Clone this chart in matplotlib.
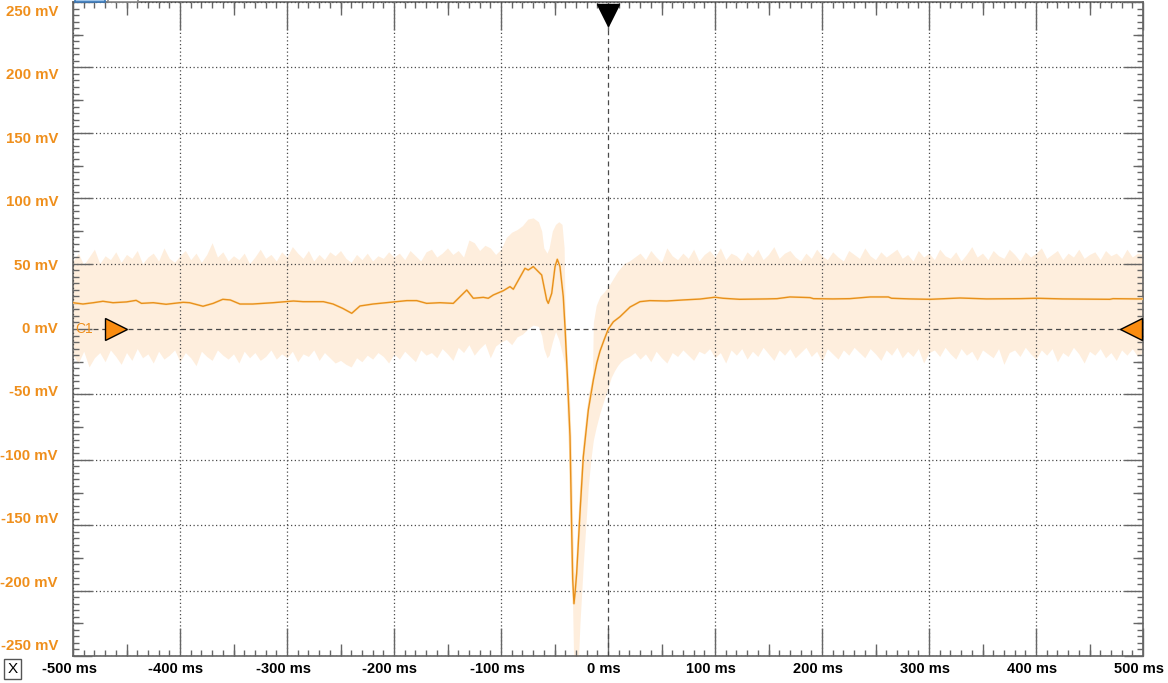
"""
Trace oscilloscope : moyenne C1 + enveloppe min/max autour du déclenchement.
"""

import numpy as np
import matplotlib
matplotlib.use("Agg")
import matplotlib.pyplot as plt
from matplotlib.ticker import MultipleLocator, FuncFormatter
from matplotlib.patches import Rectangle
from matplotlib.transforms import ScaledTranslation

# ----------------------------------------------------------------------------
# Données (lues sur la capture)
# ----------------------------------------------------------------------------
# trace moyenne : temps (ms) / tension (mV)
trace_t = [-500, -490.7, -481, -472, -462.6, -450, -441, -436, -425, -413,
           -397, -391, -378.5, -369, -360, -353, -344, -332, -313, -294,
           -285, -266, -257, -248, -239.5, -231.8, -219.6, -203.7, -188, -178.8,
           -169.5, -157, -144.6, -132, -125.9, -116.5, -111.9, -107.2, -97.8, -91.6,
           -88.5, -77.6, -74.5, -69.8, -62, -57.3, -55.8, -52.6, -49.5, -47.4,
           -44.9, -41.8, -40.2, -37.8, -35.5, -34, -33, -31.8, -30.8, -29.3,
           -26.2, -23.1, -18.4, -13.7, -10.5, -7.5, -3.5, 0.3, 5, 11.2,
           20.6, 29.9, 39, 54.8, 70, 86, 100, 107.5, 123, 148.6,
           158, 170, 188.8, 192, 210, 226, 245, 262, 265, 282,
           301, 329, 354, 385, 401, 425, 469, 472, 494, 500]
trace_v = [20.1, 19.1, 20.1, 21.2, 20.1, 20.7, 21.9, 19.6, 20.1, 18.9,
           20.4, 20.1, 17.4, 19.6, 22.7, 22.2, 19.1, 19.1, 20.1, 21.4,
           20.9, 20.9, 19.1, 15.8, 12.0, 17.6, 19.1, 20.4, 21.7, 21.7,
           19.6, 20.1, 19.6, 29.8, 23.5, 24.2, 23.5, 26.0, 29.3, 32.4,
           30.4, 46.4, 45.1, 47.7, 41.3, 22.2, 19.6, 27.3, 47.7, 53.3,
           47.7, 24.7, 1.8, -39, -82, -151, -191, -210, -202, -187,
           -141, -98, -62, -39, -26, -17, -8, 0, 5.5, 9.4,
           16.8, 20.9, 21.7, 21.4, 22.2, 22.9, 24.3, 23.5, 22.7, 23.0,
           23.2, 24.5, 24.0, 23.2, 23.0, 23.2, 24.5, 24.5, 23.5, 23.0,
           22.7, 23.7, 23.0, 23.2, 23.5, 23.0, 22.7, 23.2, 23.0, 23.0]

# enveloppe, partie gauche : -500 .. -100 ms, pas de 5 ms
env_left_t = np.arange(-500, -95, 5)
env_left_hi = [52, 58, 49, 55, 61, 50, 56, 53, 59, 51,
               57, 54, 60, 50, 55, 58, 52, 62, 54, 51,
               56, 60, 53, 58, 51, 57, 66, 55, 59, 52,
               56, 53, 58, 50, 55, 61, 54, 57, 52, 59,
               55, 63, 58, 54, 60, 52, 57, 53, 59, 56,
               60, 54, 51, 57, 53, 58, 52, 56, 54, 59,
               55, 58, 53, 60, 56, 52, 59, 61, 55, 58,
               62, 57, 60, 55, 68, 66, 60, 64, 62, 57,
               61]
env_left_lo = [-20, -26, -17, -29, -22, -18, -25, -16, -21, -27,
               -18, -24, -15, -22, -19, -26, -17, -23, -20, -16,
               -25, -18, -22, -28, -17, -21, -24, -16, -20, -23,
               -19, -26, -17, -22, -18, -24, -21, -16, -23, -19,
               -22, -17, -25, -19, -21, -16, -24, -18, -22, -26,
               -24, -27, -29, -22, -25, -20, -23, -18, -21, -26,
               -19, -23, -17, -21, -25, -16, -20, -18, -22, -15,
               -19, -24, -14, -18, -12, -20, -15, -11, -22, -13,
               -10]

# enveloppe autour de l'impulsion
env_mid_t = [-95, -90, -85, -80, -75, -70, -65, -62, -60, -57,
             -55, -52, -49, -46, -43, -41, -40, -38.6, -37, -35.5,
             -34, -33, -31.8, -30.5, -29.3, -27.5, -26.2, -23.1, -20, -18.4,
             -16, -14.5, -13.7, -11, -7.5, -4, 0, 3, 6, 9,
             12, 15]
env_mid_hi = [70, 74, 76, 79, 84, 85, 82, 75, 62, 58,
              62, 75, 80, 82, 80, 62, 10, -20, -39, -60,
              -100, -150, -185, -190, -175, -145, -120, -85, -62, -50,
              -42, -35, 5, 18, 25, 28, 32, 36, 40, 44,
              47, 50]
env_mid_lo = [-8, -12, -6, -4, 0, 3, 2, -5, -15, -22,
              -20, -10, -2, -8, -18, -25, -30, -60, -90, -130,
              -175, -215, -265, -265, -262, -250, -225, -180, -141, -120,
              -100, -90, -85, -75, -64, -55, -45, -37, -32, -28,
              -25, -23]

# enveloppe, partie droite : 20 .. 500 ms, pas de 5 ms
env_right_t = np.arange(20, 505, 5)
env_right_hi = [52, 55, 58, 53, 60, 55, 51, 62, 56, 53,
                58, 54, 61, 52, 57, 60, 55, 62, 53, 58,
                56, 52, 59, 55, 61, 53, 57, 63, 54, 58,
                60, 55, 52, 58, 54, 61, 56, 53, 59, 55,
                52, 60, 57, 54, 62, 56, 53, 59, 55, 58,
                61, 54, 57, 52, 60, 55, 58, 53, 61, 56,
                54, 59, 52, 57, 63, 55, 58, 53, 60, 56,
                54, 61, 57, 52, 59, 55, 58, 62, 54, 57,
                60, 53, 58, 55, 61, 54, 57, 59, 53, 60,
                56, 58, 54, 61, 55, 58, 57]
env_right_lo = [-21, -18, -23, -19, -25, -17, -22, -26, -18, -21,
                -16, -20, -24, -17, -19, -15, -22, -18, -26, -16,
                -20, -15, -23, -17, -21, -14, -19, -24, -16, -20,
                -15, -22, -18, -14, -21, -17, -25, -15, -19, -23,
                -16, -20, -14, -18, -22, -15, -19, -24, -16, -20,
                -14, -22, -17, -21, -15, -26, -18, -16, -21, -14,
                -19, -23, -15, -20, -17, -24, -16, -19, -22, -15,
                -27, -18, -16, -21, -14, -19, -23, -16, -20, -15,
                -25, -18, -21, -14, -19, -26, -17, -20, -15, -22,
                -18, -24, -16, -20, -15, -21, -18]

x_ticks = np.arange(-500, 501, 100)
y_ticks = np.arange(-250, 251, 50)

# ----------------------------------------------------------------------------
# Style
# ----------------------------------------------------------------------------
ORANGE_TXT = "#ef8f1c"
ORANGE_LINE = "#e8901c"
FILL = "#feeedd"
GRID = "#4a4a4a"
plt.rcParams["font.family"] = ["Liberation Sans", "DejaVu Sans"]

fig = plt.figure(figsize=(11.68, 6.83), dpi=100)
W, H = 1168, 683
ax = fig.add_axes([73 / W, 1 - 656 / H, 1070 / W, 654 / H])
ax.set_xlim(-500, 500)
ax.set_ylim(-250, 250)

# enveloppe min/max
env_t = np.concatenate([env_left_t, env_mid_t, env_right_t])
env_hi = np.concatenate([env_left_hi, env_mid_hi, env_right_hi])
env_lo = np.concatenate([env_left_lo, env_mid_lo, env_right_lo])
ax.fill_between(env_t, env_lo, env_hi, color=FILL, linewidth=0, zorder=1)

# trace moyenne
ax.plot(trace_t, trace_v, color="#ffe3b8", linewidth=1.8, zorder=3)
ax.plot(trace_t, trace_v, color=ORANGE_LINE, linewidth=1.0, zorder=4)

# grille pointillée + axes zéro en tirets
ax.set_xticks(x_ticks)
ax.set_yticks(y_ticks)
ax.xaxis.set_minor_locator(MultipleLocator(10))
ax.yaxis.set_minor_locator(MultipleLocator(5))
ax.grid(True, which="major", color=GRID, linestyle=(0, (1, 2)), linewidth=0.9)
ax.set_axisbelow(False)
for gl in (ax.get_xgridlines()[5], ax.get_ygridlines()[5]):
    gl.set_visible(False)
ax.axhline(0, xmin=20 / 1070, color=GRID, linestyle=(0, (4, 3)), linewidth=0.9, zorder=2.6)
ax.axvline(0, color=GRID, linestyle=(0, (4, 3)), linewidth=0.9, zorder=2.6)

for side in ax.spines.values():
    side.set_color("#666666")
    side.set_linewidth(1.2)

ax.tick_params(axis="x", which="major", direction="in", length=20, width=1,
               color="#666666", top=True, bottom=True, pad=4,
               labelsize=10.5, labelcolor="black")
ax.tick_params(axis="y", which="major", direction="in", length=14, width=1,
               color="#666666", left=True, right=True, labelleft=False)
ax.tick_params(which="minor", direction="in", length=4, width=1,
               color="#666666", top=True, bottom=True, left=True, right=True)
ax.xaxis.set_major_formatter(FuncFormatter(lambda v, _: f"{int(v)} ms"))
shift = ScaledTranslation(-4 / 100, 0, fig.dpi_scale_trans)
for lab in ax.get_xticklabels():
    lab.set_fontweight("bold")
    lab.set_transform(lab.get_transform() + shift)

# graduations intermédiaires (50 ms / 25 mV)
for pos in ("top", "bottom"):
    sec = ax.secondary_xaxis(pos)
    sec.set_xticks(np.arange(-450, 500, 100))
    sec.tick_params(direction="in", length=9, width=1, color="#666666",
                    labelbottom=False, labeltop=False)
    sec.spines[pos].set_visible(False)
for pos in ("left", "right"):
    sec = ax.secondary_yaxis(pos)
    sec.set_yticks(np.arange(-225, 250, 50))
    sec.tick_params(direction="in", length=7, width=1, color="#666666",
                    labelleft=False, labelright=False)
    sec.spines[pos].set_visible(False)

# étiquettes Y (légèrement resserrées comme sur l'écran)
for v in y_ticks:
    ax.text(-15 / 1070, v * 0.9694, f"{v} mV", transform=ax.get_yaxis_transform(),
            ha="right", va="center", color=ORANGE_TXT, fontsize=10.8,
            fontweight="bold")

# repère de voie C1 et marqueurs de niveau / déclenchement
ax.text(2 / 1070, 0, "C1", transform=ax.get_yaxis_transform(), ha="left",
        va="center", color=ORANGE_TXT, fontsize=10, zorder=6)
ax.plot([43 / 1070], [0], marker=">", markersize=16.5, markerfacecolor="#fa8c10",
        markeredgecolor="black", markeredgewidth=1, transform=ax.get_yaxis_transform(),
        clip_on=False, zorder=7)
ax.plot([1058 / 1070], [0], marker="<", markersize=16.5, markerfacecolor="#fa8c10",
        markeredgecolor="black", markeredgewidth=1, transform=ax.get_yaxis_transform(),
        clip_on=False, zorder=7)
ax.plot([0], [1 - 13 / 654], marker="v", markersize=16.5, color="black",
        transform=ax.get_xaxis_transform(), clip_on=False, zorder=7)

# onglets en haut et case "X" en bas à gauche
fig.patches.append(Rectangle((75 / W, 1 - 2 / H), 30 / W, 4 / H, transform=fig.transFigure,
                             facecolor="#9cc3e8", edgecolor="#3a78b8", linewidth=1.2))
fig.patches.append(Rectangle((108 / W, 1 - 2 / H), 30 / W, 4 / H, transform=fig.transFigure,
                             facecolor="white", edgecolor="#888888", linewidth=1.2))
fig.text(12.5 / W, 1 - 669 / H, "X", ha="center", va="center", fontsize=11,
         bbox=dict(boxstyle="square,pad=0.2", facecolor="white", edgecolor="#555555"))

fig.savefig("out.png", dpi=100)
